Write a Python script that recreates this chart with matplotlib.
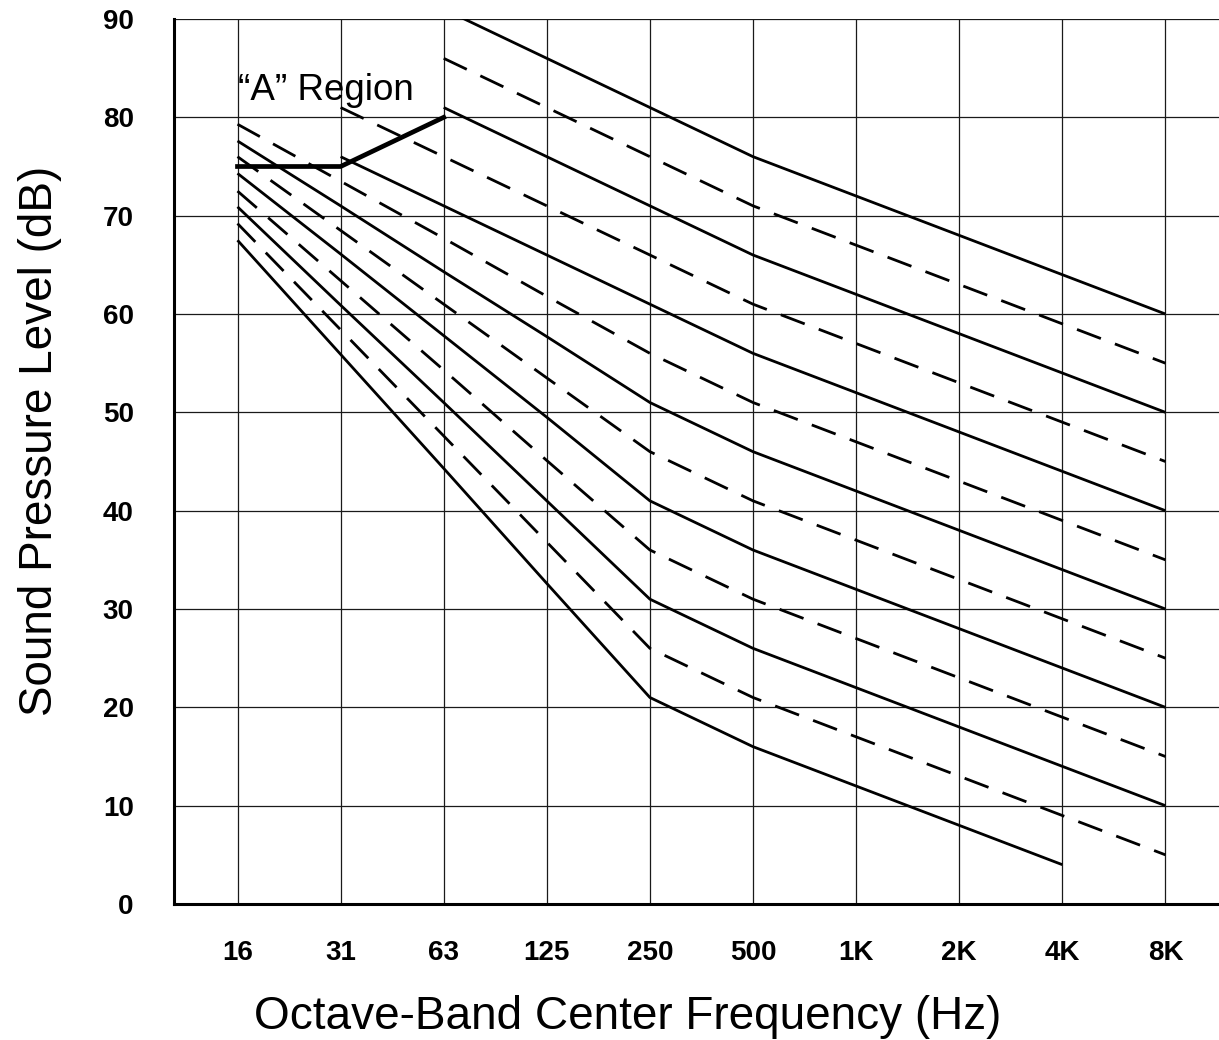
import numpy as np
import matplotlib
matplotlib.use("Agg")
import matplotlib.pyplot as plt

plt.rcParams['font.family'] = ['Liberation Sans', 'DejaVu Sans']

# Octave bands
bands = ['16', '31', '63', '125', '250', '500', '1K', '2K', '4K', '8K']
nan = np.nan

# Solid curves (dB per band, nan = not drawn)
solid_curves = [
    [nan, nan, 91, 86, 81, 76, 72, 68, 64, 60],
    [nan, nan, 81, 76, 71, 66, 62, 58, 54, 50],
    [nan, 76, 71, 66, 61, 56, 52, 48, 44, 40],
    [77.6, 71, 64.3, 57.7, 51, 46, 42, 38, 34, 30],
    [74.3, 66.1, 57.8, 49.5, 41, 36, 32, 28, 24, 20],
    [70.9, 60.9, 51, 41, 31, 26, 22, 18, 14, 10],
    [67.5, 55.9, 44.3, 32.6, 21, 16, 12, 8, 4, nan],
]

# Dashed curves
dashed_curves = [
    [nan, nan, 86, 81, 76, 71, 67, 63, 59, 55],
    [nan, 81, 76, 71, 66, 61, 57, 53, 49, 45],
    [79.3, 73.5, 67.7, 61.8, 56, 51, 47, 43, 39, 35],
    [76, 68.5, 61, 53.5, 46, 41, 37, 33, 29, 25],
    [72.5, 63.4, 54.3, 45.1, 36, 31, 27, 23, 19, 15],
    [69.2, 58.4, 47.6, 36.8, 26, 21, 17, 13, 9, 5],
]

# "A" region boundary
region_a = [75, 75, 80]

y_ticks = [0, 10, 20, 30, 40, 50, 60, 70, 80, 90]

fig = plt.figure(figsize=(12.19, 10.40), dpi=100)
ax = fig.add_axes([174/1219, (1040-904)/1040, (1219-174)/1219, (904-19)/1040])

x = np.arange(len(bands))

for vals in solid_curves:
    ax.plot(x, vals, color='black', lw=2.0, solid_capstyle='butt')

for vals in dashed_curves:
    ax.plot(x, vals, color='black', lw=2.0, linestyle=(0, (9.2, 5.4)))

ax.plot(x[:3], region_a, color='black', lw=3.4, solid_capstyle='projecting',
        solid_joinstyle='miter')

ax.text(0, 81.8, '\u201cA\u201d Region', fontsize=26.5, ha='left', va='baseline')

ax.set_xlim(-0.616, 9.52)
ax.set_ylim(0, 90)
ax.set_xticks(x)
ax.set_xticklabels(bands)
ax.set_yticks(y_ticks)
ax.tick_params(axis='x', length=0, pad=26, labelsize=20)
ax.tick_params(axis='y', length=0, pad=29, labelsize=20)
for lab in ax.get_xticklabels() + ax.get_yticklabels():
    lab.set_fontweight('bold')

ax.grid(True, color='#1a1a1a', lw=0.9)
ax.set_axisbelow(True)

ax.spines['top'].set_visible(False)
ax.spines['right'].set_visible(False)
ax.spines['left'].set_linewidth(2.2)
ax.spines['bottom'].set_linewidth(2.2)

fig.text(628/1219, 1 - 1029/1040, 'Octave-Band Center Frequency (Hz)',
         fontsize=33, ha='center', va='baseline')
fig.text(40/1219, 1 - 441/1040, 'Sound Pressure Level (dB)',
         fontsize=33, ha='center', va='center', rotation=90)

fig.savefig('out.png', dpi=100)
